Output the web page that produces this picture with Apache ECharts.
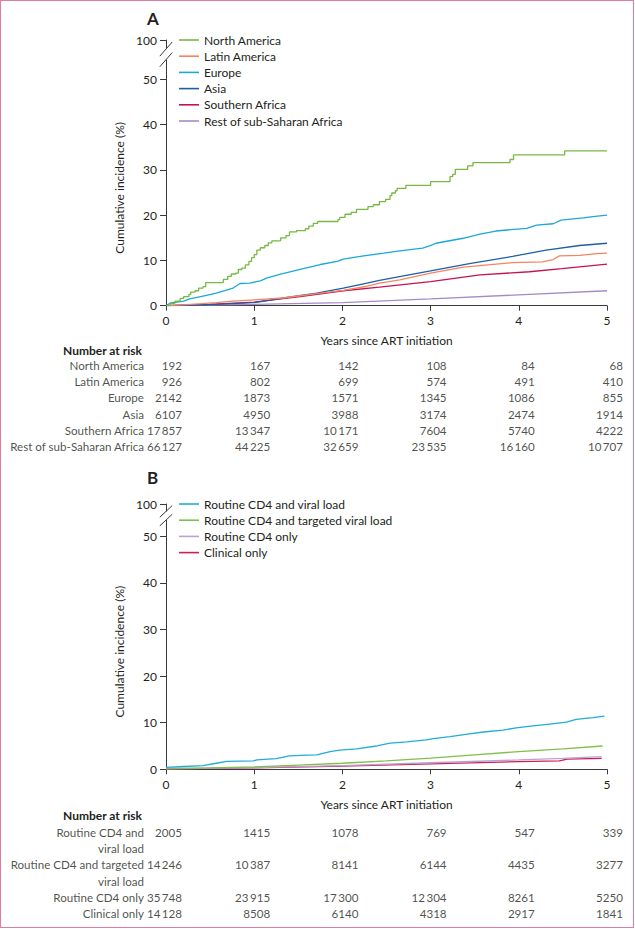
<!DOCTYPE html>
<html><head><meta charset="utf-8">
<script src="https://cdn.jsdelivr.net/npm/echarts@6/dist/echarts.min.js"></script>
<style>
html,body{margin:0;padding:0;background:#fff}
#c{position:absolute;left:0;top:0;width:635px;height:929px}
#f{position:absolute;left:0;top:0;width:634px;height:928px;box-sizing:border-box;border:1.5px solid #de7d9f;pointer-events:none}
</style>
</head><body><div id="c"></div><div id="f"></div>
<script>
const FONT = 'Lato';
const TXT = '#231f20';
const AX = '#3a3a3a';

// ---------- Panel A data ----------
const namesA = ['North America','Latin America','Europe','Asia','Southern Africa','Rest of sub-Saharan Africa'];
const colorsA = ['#78b843','#f58462','#1aa9d6','#1c5ea8','#c4134f','#a58bc6'];
const northAmerica = [[0,0],[0.05,0.5],[0.1,1.0],[0.16,1.6],[0.2,2.0],[0.26,2.5],[0.28,3.0],[0.33,3.3],[0.37,3.9],[0.42,4.2],[0.45,5.1],[0.62,5.1],[0.65,5.8],[0.7,6.5],[0.74,7.0],[0.79,7.2],[0.82,8.0],[0.86,8.3],[0.9,9.0],[0.94,9.8],[0.97,10.6],[1.0,11.3],[1.03,12.3],[1.07,12.8],[1.12,13.3],[1.16,13.9],[1.2,14.3],[1.28,14.4],[1.3,15.0],[1.36,15.5],[1.4,16.3],[1.48,16.6],[1.58,17.0],[1.62,17.6],[1.67,18.2],[1.72,18.6],[1.95,19.0],[1.97,19.5],[2.03,20.2],[2.1,20.6],[2.16,21.3],[2.29,21.9],[2.35,22.3],[2.42,23.0],[2.49,23.5],[2.54,24.3],[2.56,24.9],[2.6,25.4],[2.62,25.9],[2.72,26.6],[3.0,27.4],[3.22,28.5],[3.25,29.0],[3.28,30.1],[3.42,30.9],[3.48,31.6],[3.9,32.3],[3.94,33.3],[4.52,34.2],[5.0,34.2]];
const latinAmerica = [[0,0],[0.2,0.2],[0.57,0.7],[0.76,1.0],[1.0,1.3],[1.33,1.7],[1.52,2.2],[1.71,2.65],[2.01,3.4],[2.28,4.3],[2.42,5.0],[2.65,5.7],[3.0,7.2],[3.37,8.5],[3.93,9.5],[4.27,9.7],[4.39,10.2],[4.46,11.0],[4.69,11.1],[4.88,11.5],[5.0,11.6]];
const europe = [[0,0],[0.05,0.6],[0.2,1.0],[0.27,1.5],[0.46,2.3],[0.57,2.8],[0.76,3.9],[0.84,4.9],[0.95,5.0],[1.07,5.5],[1.14,6.1],[1.29,6.9],[1.52,8.0],[1.75,9.1],[1.94,9.8],[2.01,10.3],[2.24,11.0],[2.47,11.6],[2.65,12.1],[2.91,12.7],[2.99,13.2],[3.06,13.8],[3.37,14.9],[3.56,15.8],[3.74,16.5],[4.09,17.1],[4.2,17.8],[4.39,18.1],[4.48,18.9],[4.73,19.4],[4.84,19.7],[5.0,20.0]];
const asia = [[0,0],[0.3,0.1],[0.6,0.35],[1.0,0.7],[1.33,1.7],[1.71,2.8],[2.01,3.9],[2.28,5.0],[2.42,5.6],[2.8,7.0],[3.0,7.7],[3.44,9.3],[3.93,10.9],[4.31,12.3],[4.69,13.3],[5.0,13.8]];
const southernAfrica = [[0,0],[0.5,0.3],[1.0,0.8],[1.52,2.0],[2.01,3.3],[2.42,4.1],[3.0,5.3],[3.56,6.8],[4.12,7.5],[4.49,8.2],[5.0,9.2]];
const restSSA = [[0,0],[1,0.3],[2,0.7],[3,1.5],[4,2.4],[5,3.3]];
const seriesA = [northAmerica, latinAmerica, europe, asia, southernAfrica, restSSA];
const stepA = ['end', false, false, false, false, false];

// ---------- Panel B data ----------
const namesB = ['Routine CD4 and viral load','Routine CD4 and targeted viral load','Routine CD4 only','Clinical only'];
const colorsB = ['#22acd6','#7fc04b','#b9a3d3','#cf1e54'];
const cd4Viral = [[0,0.4],[0.2,0.6],[0.42,0.8],[0.57,1.3],[0.69,1.7],[0.99,1.8],[1.03,2.0],[1.25,2.3],[1.4,2.9],[1.52,3.0],[1.71,3.1],[1.86,3.8],[1.97,4.1],[2.16,4.4],[2.39,5.0],[2.54,5.6],[2.73,5.9],[2.95,6.3],[3.03,6.6],[3.22,7.0],[3.44,7.6],[3.6,8.0],[3.82,8.4],[3.97,8.9],[4.16,9.3],[4.35,9.7],[4.54,10.1],[4.65,10.7],[4.84,11.1],[4.97,11.4]];
const cd4Targeted = [[0,0.2],[0.5,0.3],[1,0.5],[1.5,0.9],[2,1.3],[2.5,1.8],[3,2.4],[3.5,3.1],[4,3.8],[4.5,4.4],[4.95,5.0]];
const cd4Only = [[0,0.1],[1,0.35],[2,0.8],[3,1.4],[4,2.0],[4.5,2.35],[4.94,2.7]];
const clinicalOnly = [[0,0.1],[1,0.3],[2,0.7],[3,1.15],[4,1.65],[4.46,1.8],[4.55,2.2],[4.94,2.35]];
const seriesB = [cd4Viral, cd4Targeted, cd4Only, clinicalOnly];

// ---------- Number at risk ----------
const riskTimes = [0,1,2,3,4,5];
const riskLabelsA = namesA;
const riskA = [[192,167,142,108,84,68],[926,802,699,574,491,410],[2142,1873,1571,1345,1086,855],[6107,4950,3988,3174,2474,1914],[17857,13347,10171,7604,5740,4222],[66127,44225,32659,23535,16160,10707]];
const riskLabelsB = ['Routine CD4 and\nviral load','Routine CD4 and targeted\nviral load','Routine CD4 only','Clinical only'];
const riskB = [[2005,1415,1078,769,547,339],[14246,10387,8141,6144,4435,3277],[35748,23915,17300,12304,8261,5250],[14128,8508,6140,4318,2917,1841]];

const yTickLabels = ['0','10','20','30','40','50','100'];

// ---------- layout ----------
const yMaxA = 58.7, yMaxB = 56.9;
const fmtN = n => n >= 10000 ? String(n).replace(/(\d{2})(\d{3})$/, '$1\u2009$2') : String(n);

function plotX(gi){
  return {gridIndex: gi, type:'value', min:0, max:5, interval:1,
    axisLine:{show:true, lineStyle:{color:AX, width:1}},
    axisTick:{show:true, length:5, lineStyle:{color:AX}},
    axisLabel:{color:TXT, fontFamily:FONT, fontSize:12, margin:9},
    splitLine:{show:false},
    name:'Years since ART initiation', nameLocation:'middle', nameGap:29,
    nameTextStyle:{color:TXT, fontFamily:FONT, fontSize:12}};
}
function plotY(gi, max){
  return {gridIndex: gi, type:'value', min:0, max:max, interval:10,
    axisLine:{show:true, lineStyle:{color:AX, width:1}},
    axisTick:{show:true, length:6, lineStyle:{color:AX}},
    axisLabel:{color:TXT, fontFamily:FONT, fontSize:12, margin:9,
      formatter: v => v > 51 ? yTickLabels[6] : yTickLabels[Math.round(v/10)],
      showMaxLabel:true},
    splitLine:{show:false},
    name:'Cumulative incidence (%)', nameLocation:'middle', nameGap:40,
    nameTextStyle:{color:TXT, fontFamily:FONT, fontSize:12, padding:[0,30,0,0]}};
}
function tableX(gi){ return {gridIndex:gi, type:'value', min:0, max:5, show:false}; }
function tableY(gi){ return {gridIndex:gi, type:'value', min:0, max:6, inverse:true, show:false}; }

const lineSeries = [];
seriesA.forEach((d,i)=>lineSeries.push({type:'line', name:namesA[i], xAxisIndex:0, yAxisIndex:0, data:d,
  step: stepA[i], showSymbol:false, symbol:'none', z: 10 - i,
  itemStyle:{color:colorsA[i]}, lineStyle:{color:colorsA[i], width:1.3}}));
seriesB.forEach((d,i)=>lineSeries.push({type:'line', name:namesB[i], xAxisIndex:2, yAxisIndex:2, data:d,
  showSymbol:false, symbol:'none', z: 10 - i,
  itemStyle:{color:colorsB[i]}, lineStyle:{color:colorsB[i], width:1.3}}));

function tableSeries(labels, risk, xi){
  const rowPos = [];
  let line = 0;
  labels.forEach(l => { rowPos.push(line + 0.5); line += l.split('\n').length; });
  const nums = [], names = [];
  risk.forEach((row, r) => {
    names.push([0, rowPos[r], labels[r]]);
    row.forEach((n, t) => nums.push([riskTimes[t], rowPos[r], fmtN(n)]));
  });
  const lbl = {show:true, position:'inside', align:'right', verticalAlign:'top', lineHeight:16.3,
    color:TXT, fontFamily:FONT, fontSize:11.6};
  return [
    {type:'scatter', xAxisIndex:xi, yAxisIndex:xi, data:nums, symbolSize:0, silent:true,
      label:Object.assign({}, lbl, {offset:[16,-8], formatter:p=>p.data[2]})},
    {type:'scatter', xAxisIndex:xi, yAxisIndex:xi, data:names, symbolSize:0, silent:true,
      label:Object.assign({}, lbl, {offset:[-22,-8], formatter:p=>p.data[2]})}
  ];
}

const legendBase = {orient:'vertical', padding:0, itemWidth:20, itemHeight:1.6, itemGap:2.2,
  icon:'path://M0,0L20,0L20,1.6L0,1.6Z',
  textStyle:{color:TXT, fontFamily:FONT, fontSize:12, lineHeight:14}};

const titleStyle = {fontFamily:FONT, fontSize:17, fontWeight:'bold', color:TXT};
const headStyle = {fontFamily:FONT, fontSize:12, fontWeight:'bold', color:TXT};
const option = {
  animation:false,
  textStyle:{fontFamily:FONT},
  title:[
    {text:'A', left:147, top:9.5, padding:0, textStyle:titleStyle},
    {text:'B', left:147, top:468.5, padding:0, textStyle:titleStyle},
    {text:'Number at risk', left:63, top:344, padding:0, textStyle:headStyle},
    {text:'Number at risk', left:63, top:809, padding:0, textStyle:headStyle}
  ],
  legend:[
    Object.assign({}, legendBase, {data:namesA, left:179, top:33}),
    Object.assign({}, legendBase, {data:namesB, left:179, top:497})
  ],
  grid:[
    {left:166, top:40, width:441, height:265.7},
    {left:166, top:357, width:441, height:97.8},
    {left:166, top:504, width:441, height:265.3},
    {left:166, top:824, width:441, height:97.8}
  ],
  xAxis:[plotX(0), tableX(1), plotX(2), tableX(3)],
  yAxis:[plotY(0, yMaxA), tableY(1), plotY(2, yMaxB), tableY(3)],
  series: lineSeries.concat(tableSeries(riskLabelsA, riskA, 1), tableSeries(riskLabelsB, riskB, 3))
};

const chart = echarts.init(document.getElementById('c'), null, {renderer:'svg'});
chart.setOption(option);

function breakMarks(gi, yMax){
  const x0 = chart.convertToPixel({xAxisIndex:gi}, 0);
  const yT = chart.convertToPixel({yAxisIndex:gi}, yMax);
  const y50 = chart.convertToPixel({yAxisIndex:gi}, 50);
  const d = y50 - yT;
  const c1 = yT + 0.23*d, c2 = yT + 0.5*d, dy = 0.18*d, dx = 6.2;
  const st = {stroke:AX, lineWidth:1};
  return [
    {type:'rect', z:100, shape:{x:x0-2, y:c1, width:4, height:c2-c1}, style:{fill:'#fff'}},
    {type:'line', z:101, shape:{x1:x0-dx, y1:c1+dy, x2:x0+dx, y2:c1-dy}, style:st},
    {type:'line', z:101, shape:{x1:x0-dx, y1:c2+dy, x2:x0+dx, y2:c2-dy}, style:st}
  ];
}
chart.setOption({graphic: breakMarks(0, yMaxA).concat(breakMarks(2, yMaxB))});
</script>
</body></html>
